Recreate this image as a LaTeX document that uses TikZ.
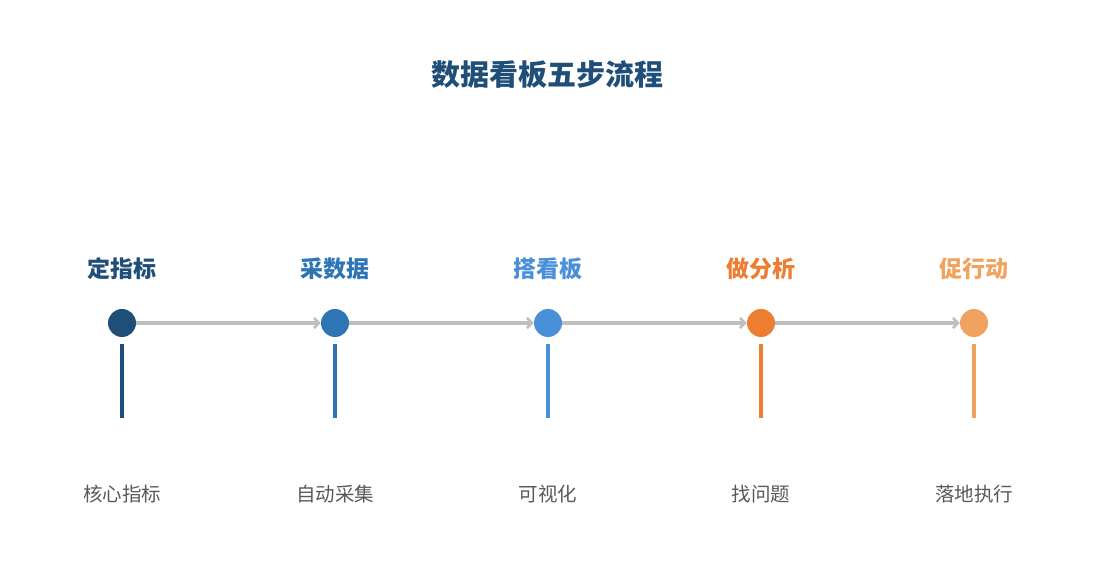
\documentclass[tikz,border=0pt]{standalone}
\usepackage{fontspec}
\setmainfont{Noto Sans CJK SC}
\usepackage{tikz}
\usetikzlibrary{arrows.meta,positioning,calc}

\definecolor{stepA}{HTML}{1F4E79}
\definecolor{stepB}{HTML}{2E75B6}
\definecolor{stepC}{HTML}{4A90D9}
\definecolor{stepD}{HTML}{ED7D31}
\definecolor{stepE}{HTML}{F0A35E}
\definecolor{flowgray}{HTML}{BFBFBF}
\definecolor{notegray}{HTML}{595959}

\tikzset{
  dot/.style={circle,inner sep=0pt,minimum size=28pt},
  steplabel/.style={font=\fontsize{23}{27}\selectfont\bfseries},
  note/.style={font=\fontsize{19.5}{23}\selectfont,text=notegray},
  flow/.style={draw=flowgray,line width=3.2pt,-{Straight Barb[length=5pt,width=10pt,line width=2.6pt]}},
  stem/.style={line width=4pt}
}

\begin{document}
\begin{tikzpicture}[x=1pt,y=-1pt]
\useasboundingbox (0,0) rectangle (1095,585);

% Title
\node[font=\fontsize{29}{33}\selectfont\bfseries,text=stepA] (title) at (547,75) {数据看板五步流程};

% Dots
\node[dot] (c1) at (122,323) {};
\node[dot] (c2) at (335,323) {};
\node[dot] (c3) at (548,323) {};
\node[dot] (c4) at (761,323) {};
\node[dot] (c5) at (974,323) {};

% Flow arrows
\draw[flow] (c1) -- (c2);
\draw[flow] (c2) -- (c3);
\draw[flow] (c3) -- (c4);
\draw[flow] (c4) -- (c5);

% Dots on top
\fill[stepA] (c1) circle (14);
\fill[stepB] (c2) circle (14);
\fill[stepC] (c3) circle (14);
\fill[stepD] (c4) circle (14);
\fill[stepE] (c5) circle (14);

% Step labels
\node[steplabel,text=stepA] (s1) at (122,269) {定指标};
\node[steplabel,text=stepB] (s2) at (335,269) {采数据};
\node[steplabel,text=stepC] (s3) at (548,269) {搭看板};
\node[steplabel,text=stepD] (s4) at (761,269) {做分析};
\node[steplabel,text=stepE] (s5) at (974,269) {促行动};

% Stems
\draw[stem,stepA] ($(c1.south)+(0,7)$) -- ++(0,74);
\draw[stem,stepB] ($(c2.south)+(0,7)$) -- ++(0,74);
\draw[stem,stepC] ($(c3.south)+(0,7)$) -- ++(0,74);
\draw[stem,stepD] ($(c4.south)+(0,7)$) -- ++(0,74);
\draw[stem,stepE] ($(c5.south)+(0,7)$) -- ++(0,74);

% Notes
\node[note] (n1) at (122,494) {核心指标};
\node[note] (n2) at (335,494) {自动采集};
\node[note] (n3) at (548,494) {可视化};
\node[note] (n4) at (761,494) {找问题};
\node[note] (n5) at (974,494) {落地执行};
\end{tikzpicture}
\end{document}
